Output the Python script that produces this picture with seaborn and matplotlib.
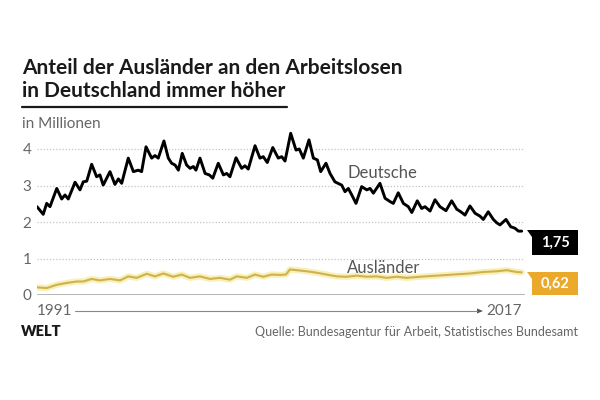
import numpy as np
import pandas as pd
import matplotlib
matplotlib.use("Agg")
import matplotlib.pyplot as plt
from matplotlib.patches import Polygon
import seaborn as sns

# Arbeitslose in Millionen (Dezimaljahre)
deutsche_jahr = [1991.0, 1991.34, 1991.53, 1991.71, 1992.08, 1992.35, 1992.53, 1992.71,
                 1993.08, 1993.35, 1993.53, 1993.72, 1993.99, 1994.26, 1994.44, 1994.62,
                 1994.99, 1995.26, 1995.45, 1995.63, 1995.99, 1996.27, 1996.54, 1996.72,
                 1996.96, 1997.27, 1997.45, 1997.63, 1997.94, 1998.18, 1998.36, 1998.55,
                 1998.73, 1998.94, 1999.18, 1999.37, 1999.55, 1999.69, 1999.91, 2000.19,
                 2000.42, 2000.61, 2000.91, 2001.19, 2001.37, 2001.55, 2001.88, 2002.19,
                 2002.37, 2002.55, 2002.92, 2003.19, 2003.37, 2003.59, 2003.89, 2004.19,
                 2004.38, 2004.56, 2004.87, 2005.16, 2005.34, 2005.56, 2005.87, 2006.11,
                 2006.33, 2006.51, 2006.80, 2007.02, 2007.29, 2007.66, 2007.84, 2008.02,
                 2008.21, 2008.44, 2008.75, 2009.03, 2009.21, 2009.39, 2009.75, 2010.03,
                 2010.30, 2010.48, 2010.75, 2011.03, 2011.30, 2011.49, 2011.79, 2012.03,
                 2012.21, 2012.49, 2012.76, 2013.03, 2013.36, 2013.67, 2013.95, 2014.17,
                 2014.40, 2014.67, 2014.95, 2015.22, 2015.40, 2015.67, 2015.95, 2016.13,
                 2016.31, 2016.64, 2016.90, 2017.13, 2017.32, 2017.50]
deutsche_wert = [2.42, 2.21, 2.51, 2.42, 2.92, 2.63, 2.74, 2.63,
                 3.09, 2.88, 3.10, 3.12, 3.58, 3.24, 3.29, 3.01,
                 3.38, 3.03, 3.18, 3.06, 3.75, 3.38, 3.42, 3.38,
                 4.06, 3.75, 3.82, 3.75, 4.22, 3.75, 3.61, 3.56,
                 3.42, 3.88, 3.56, 3.47, 3.52, 3.42, 3.75, 3.33,
                 3.29, 3.20, 3.61, 3.29, 3.33, 3.24, 3.76, 3.47,
                 3.54, 3.45, 4.09, 3.75, 3.79, 3.63, 4.04, 3.75,
                 3.79, 3.67, 4.43, 3.97, 4.00, 3.75, 4.25, 3.75,
                 3.70, 3.38, 3.61, 3.33, 3.10, 3.01, 2.83, 2.92,
                 2.74, 2.51, 2.97, 2.88, 2.92, 2.79, 3.06, 2.65,
                 2.56, 2.51, 2.80, 2.51, 2.42, 2.26, 2.58, 2.37,
                 2.42, 2.30, 2.61, 2.42, 2.31, 2.58, 2.35, 2.28,
                 2.19, 2.44, 2.24, 2.16, 2.07, 2.28, 2.07, 1.98,
                 1.92, 2.07, 1.87, 1.83, 1.75, 1.75]

auslaender_jahr = [1991.0, 1991.53, 1992.08, 1992.62, 1993.17, 1993.53, 1993.99, 1994.44,
                   1994.99, 1995.54, 1995.99, 1996.45, 1997.0, 1997.45, 1997.91, 1998.45,
                   1998.91, 1999.37, 1999.91, 2000.46, 2001.0, 2001.55, 2001.92, 2002.47,
                   2002.92, 2003.37, 2003.83, 2004.29, 2004.61, 2004.83, 2005.20, 2005.75,
                   2006.29, 2006.84, 2007.39, 2007.93, 2008.48, 2009.03, 2009.57, 2010.12,
                   2010.67, 2011.21, 2011.94, 2012.85, 2013.76, 2014.67, 2015.40, 2016.13,
                   2016.68, 2017.23, 2017.50]
auslaender_wert = [0.21, 0.19, 0.28, 0.33, 0.37, 0.37, 0.44, 0.40,
                   0.44, 0.40, 0.51, 0.47, 0.58, 0.51, 0.59, 0.50,
                   0.56, 0.47, 0.51, 0.44, 0.47, 0.42, 0.51, 0.47,
                   0.56, 0.50, 0.56, 0.55, 0.56, 0.70, 0.68, 0.65,
                   0.61, 0.56, 0.51, 0.50, 0.53, 0.50, 0.51, 0.47,
                   0.50, 0.47, 0.50, 0.53, 0.56, 0.59, 0.63, 0.65,
                   0.68, 0.63, 0.62]

y_ticks = [0, 1, 2, 3, 4]
end_labels = ["1,75", "0,62"]

df_de = pd.DataFrame({"Jahr": deutsche_jahr, "Wert": deutsche_wert})
df_au = pd.DataFrame({"Jahr": auslaender_jahr, "Wert": auslaender_wert})

sns.set_theme(style="white")
plt.rcParams["font.family"] = ["Lato", "DejaVu Sans"]

W, H = 600, 400
fig = plt.figure(figsize=(6, 4), dpi=100)


def px(x, y):
    return x / W, 1 - y / H


# plot area: x 37..525 px, y=0 at 295 px, 36.5 px per unit
ax = fig.add_axes([37 / W, (H - 295) / H, (525 - 37) / W, 4.5 * 36.5 / H])
ax.set_xlim(1991, 2017.68)
ax.set_ylim(0, 4.5)

for v in y_ticks[1:]:
    ax.axhline(v, color="#c4c4c4", lw=0.9, ls=(0, (1, 1.5)), zorder=1)
ax.axhline(0, color="#a0a0a0", lw=1.8, zorder=2)

# Ausländer: gold line with pale glow
sns.lineplot(data=df_au, x="Jahr", y="Wert", ax=ax, color="#f8eca8", lw=4.5,
             alpha=0.8, zorder=3)
sns.lineplot(data=df_au, x="Jahr", y="Wert", ax=ax, color="#cdb24e", lw=1.5,
             zorder=4)
# Deutsche
sns.lineplot(data=df_de, x="Jahr", y="Wert", ax=ax, color="white", lw=4,
             zorder=5)
sns.lineplot(data=df_de, x="Jahr", y="Wert", ax=ax, color="black", lw=2.1,
             zorder=6)

ax.set_xticks([])
ax.set_yticks(y_ticks)
ax.set_yticklabels([str(v) for v in y_ticks], fontsize=11, color="#666666")
ax.tick_params(axis="y", length=0, pad=4)
ax.set_xlabel("")
ax.set_ylabel("")
for s in ax.spines.values():
    s.set_visible(False)

ax.text(2007.95, 3.34, "Deutsche", fontsize=12, color="#555555", va="center")
ax.text(2007.95, 0.73, "Ausländer", fontsize=12, color="#555555", va="center")

# title
fig.text(*px(22, 68), "Anteil der Ausländer an den Arbeitslosen", fontsize=15,
         fontweight="bold", color="#1a1a1a", va="center")
fig.text(*px(22, 91), "in Deutschland immer höher", fontsize=15,
         fontweight="bold", color="#1a1a1a", va="center")
fig.add_artist(plt.Line2D([22 / W, 287 / W], [1 - 107 / H, 1 - 107 / H],
                          color="#1a1a1a", lw=1.6))
fig.text(*px(22, 124), "in Millionen", fontsize=11, color="#666666", va="center")

# end value boxes
boxes = [(230, 255, "black", end_labels[0]), (272, 295, "#eaa92a", end_labels[1])]
for top, bot, col, lab in boxes:
    verts = [px(527, top), px(578, top), px(578, bot), px(532, bot), px(532, top + 7)]
    fig.add_artist(Polygon(verts, closed=True, facecolor=col, edgecolor="none"))
    fig.text(*px(555, (top + bot) / 2), lab, fontsize=10.5, fontweight="bold",
             color="white", ha="center", va="center")

# time arrow
fig.text(*px(37, 311), "1991", fontsize=11, color="#666666", va="center")
fig.text(*px(486, 311), "2017", fontsize=11, color="#666666", va="center")
fig.add_artist(plt.Line2D([75 / W, 477 / W], [1 - 311 / H, 1 - 311 / H],
                          color="#888888", lw=0.8))
fig.add_artist(Polygon([px(477, 308.5), px(483, 311), px(477, 313.5)],
                       closed=True, facecolor="#555555", edgecolor="none"))

# footer
fig.text(*px(21, 332), "WELT", fontsize=10.5, fontweight="heavy", color="#1a1a1a",
         va="center")
fig.text(*px(578, 332), "Quelle: Bundesagentur für Arbeit, Statistisches Bundesamt",
         fontsize=9, color="#666666", ha="right", va="center")

fig.savefig("out.png", dpi=100, facecolor="white")
